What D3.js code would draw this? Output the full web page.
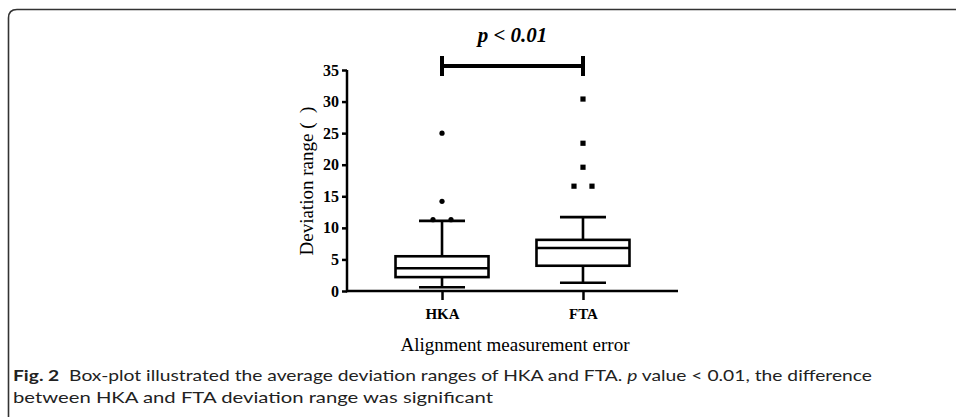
<!DOCTYPE html>
<html>
<head>
<meta charset="utf-8">
<script src="https://cdn.jsdelivr.net/npm/d3@7"></script>
<style>
  body { margin: 0; background: #fff; }
  svg { display: block; }
</style>
</head>
<body>
<svg id="svg" width="956" height="417"></svg>
<script>
// box-plot values
const categories = ["HKA", "FTA"];
const whiskerLow = [0.6, 1.3];
const q1 = [2.2, 4.0];
const median = [3.6, 6.8];
const q3 = [5.5, 8.1];
const whiskerHigh = [11.1, 11.7];
const outliers = [
    [11.3, 11.3, 14.2, 25.0],
    [16.6, 16.6, 19.6, 23.4, 30.4]
];
const yTicks = [0, 5, 10, 15, 20, 25, 30, 35];
const pLabel = "p < 0.01";

const x = d3.scalePoint().domain(categories).range([347, 678]).padding(0.674),
    y = d3.scaleLinear().domain([0, 35]).range([291, 70]),
    boxW = 93,
    capW = 46;

const svg = d3.select("#svg");

// figure frame
svg.append("path")
    .attr("d", "M8.5,430 L8.5,18 Q8.5,9.5 17,9.5 L970,9.5")
    .attr("fill", "none").style("stroke", "#333").style("stroke-width", 1.6);

const g = svg.append("g");

// axes
const yAxis = g.append("g").attr("transform", "translate(347,0)")
    .call(d3.axisLeft(y).tickValues(yTicks).tickSize(5).tickPadding(3).tickSizeOuter(0));
const xAxis = g.append("g").attr("transform", "translate(0,291)")
    .call(d3.axisBottom(x).tickSize(9).tickPadding(8).tickSizeOuter(0));
[yAxis, xAxis].forEach(a => {
    a.select(".domain").style("stroke", "#000").style("stroke-width", 2.5);
    a.selectAll(".tick line").style("stroke", "#000").style("stroke-width", 2.5);
    a.selectAll(".tick text").style("font-family", "'Liberation Serif', 'Times New Roman', serif")
        .style("font-weight", "bold").style("font-size", "16px").style("fill", "#000");
});
yAxis.select(".domain").attr("d", "M0," + y(35) + "V" + (y(0) + 1.2));
xAxis.select(".domain").attr("d", "M" + 346 + ",0H678");
xAxis.selectAll(".tick text").style("font-size", "15px");

// boxes
const boxes = g.selectAll(".box").data(categories).join("g").attr("class", "box");
const sw = 2.6;
function ln(sel, x1, y1, x2, y2) {
    sel.append("line").attr("x1", x1).attr("y1", y1).attr("x2", x2).attr("y2", y2)
        .style("stroke", "#000").style("stroke-width", sw);
}
boxes.each(function (c, i) {
    const s = d3.select(this), cx = x(c);
    ln(s, cx, y(whiskerLow[i]), cx, y(q1[i]));
    ln(s, cx, y(q3[i]), cx, y(whiskerHigh[i]));
    ln(s, cx - capW / 2, y(whiskerLow[i]), cx + capW / 2, y(whiskerLow[i]));
    ln(s, cx - capW / 2, y(whiskerHigh[i]), cx + capW / 2, y(whiskerHigh[i]));
    s.append("rect").attr("x", cx - boxW / 2).attr("y", y(q3[i]))
        .attr("width", boxW).attr("height", y(q1[i]) - y(q3[i]))
        .attr("fill", "none").style("stroke", "#000").style("stroke-width", sw);
    ln(s, cx - boxW / 2, y(median[i]), cx + boxW / 2, y(median[i]));

    // outliers: repeated values sit side by side
    const counts = d3.rollup(outliers[i], v => v.length, d => d);
    const seen = new Map();
    outliers[i].forEach(v => {
        const n = counts.get(v), k = seen.get(v) || 0;
        seen.set(v, k + 1);
        const px = cx + (k - (n - 1) / 2) * 18;
        if (i === 0) {
            s.append("circle").attr("cx", px).attr("cy", y(v)).attr("r", 2.6).attr("fill", "#000");
        } else {
            s.append("rect").attr("x", px - 2.6).attr("y", y(v) - 2.6)
                .attr("width", 5.2).attr("height", 5.2).attr("fill", "#000");
        }
    });
});

// significance bar
const sy = 66;
g.append("line").attr("x1", x("HKA")).attr("x2", x("FTA")).attr("y1", sy).attr("y2", sy)
    .style("stroke", "#000").style("stroke-width", 4);
categories.forEach(c => {
    g.append("line").attr("x1", x(c)).attr("x2", x(c)).attr("y1", sy - 10).attr("y2", sy + 10)
        .style("stroke", "#000").style("stroke-width", 4);
});
g.append("text").attr("x", (x("HKA") + x("FTA")) / 2).attr("y", 42)
    .attr("text-anchor", "middle")
    .style("font-family", "'Liberation Serif', 'Times New Roman', serif")
    .style("font-weight", "bold").style("font-style", "italic").style("font-size", "21px")
    .text(pLabel);

// axis titles
g.append("text").attr("transform", "translate(313,181) rotate(-90)")
    .attr("text-anchor", "middle")
    .style("font-family", "'Liberation Serif', 'Times New Roman', serif").style("font-size", "19px")
    .text("Deviation range (\u00a0\u00a0)");
g.append("text").attr("x", 515).attr("y", 351).attr("text-anchor", "middle")
    .style("font-family", "'Liberation Serif', 'Times New Roman', serif").style("font-size", "19px")
    .text("Alignment measurement error");

// caption
const cap = svg.append("g").style("font-family", "Lato, 'Open Sans', sans-serif")
    .style("font-size", "16px").style("fill", "#222");
const l1 = cap.append("text").attr("x", 13).attr("y", 381)
    .attr("textLength", 859).attr("lengthAdjust", "spacingAndGlyphs");
l1.append("tspan").style("font-weight", "bold").text("Fig. 2");
l1.append("tspan").text("\u00a0 Box-plot illustrated the average deviation ranges of HKA and FTA. ");
l1.append("tspan").style("font-style", "italic").text("p");
l1.append("tspan").text(" value < 0.01, the difference");
cap.append("text").attr("x", 13).attr("y", 403)
    .attr("textLength", 480).attr("lengthAdjust", "spacingAndGlyphs")
    .text("between HKA and FTA deviation range was significant");
</script>
</body>
</html>
